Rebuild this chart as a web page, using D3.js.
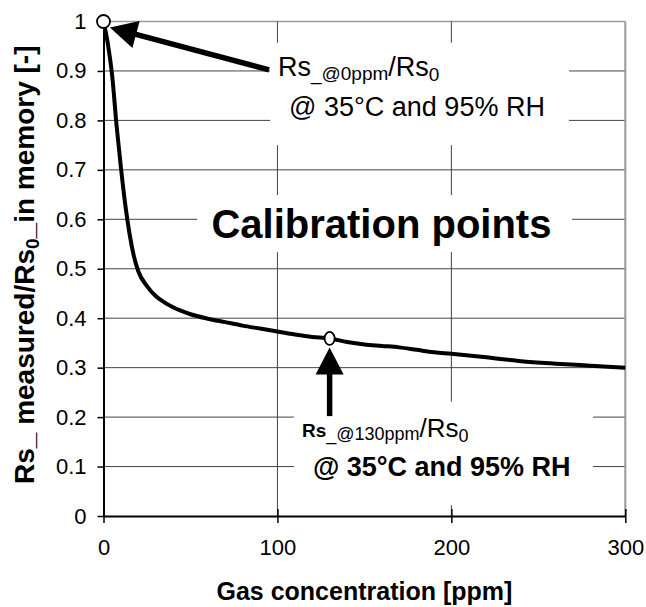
<!DOCTYPE html>
<html>
<head>
<meta charset="utf-8">
<script src="https://cdnjs.cloudflare.com/ajax/libs/d3/7.8.5/d3.min.js"></script>
<style>
    body { margin: 0; background: #fff; }
    text { font-family: 'Liberation Sans', Arial, sans-serif; fill: #000; }
    .tick text { font-size: 22px; }
    .title { font-size: 25px; font-weight: bold; }
</style>
</head>
<body>
<div id="vis"></div>
<script>
// Sensor response curve
var gasPpm = [0, 2.5, 5, 7.5, 10, 12.5, 15, 17.5, 20, 25, 30, 35, 40, 50, 60, 70, 80, 90, 100,
    110, 120, 130, 140, 150, 160, 170, 180, 190, 200, 220, 240, 260, 280, 300];
var rsRatio = [1.0, 0.955, 0.89, 0.79, 0.705, 0.63, 0.57, 0.525, 0.495, 0.465, 0.445, 0.432, 0.422,
    0.408, 0.399, 0.392, 0.385, 0.379, 0.373, 0.367, 0.362, 0.359, 0.352, 0.347, 0.344, 0.341,
    0.336, 0.331, 0.328, 0.321, 0.313, 0.308, 0.304, 0.300];

// Calibration points (open markers)
var calibPpm = [0, 130];
var calibRatio = [1.0, 0.359];

// Axis ticks
var xTicks = [0, 100, 200, 300];
var yTicks = [0, 0.1, 0.2, 0.3, 0.4, 0.5, 0.6, 0.7, 0.8, 0.9, 1];
var yTickLabels = ['0', '0.1', '0.2', '0.3', '0.4', '0.5', '0.6', '0.7', '0.8', '0.9', '1'];

var width = 646;
var height = 607;
var margin = { left: 103.5, right: 20.7, top: 21.5, bottom: 91 };
var drawWidth = width - margin.left - margin.right;
var drawHeight = height - margin.top - margin.bottom;

var svg = d3.select('#vis')
    .append('svg')
    .attr('width', width)
    .attr('height', height);

var xScale = d3.scaleLinear().domain([0, 300]).range([margin.left, margin.left + drawWidth]);
var yScale = d3.scaleLinear().domain([0, 1]).range([margin.top + drawHeight, margin.top]);

// Horizontal gridlines
svg.append('g')
    .selectAll('line')
    .data(yTicks.filter(function(d) { return d > 0; }))
    .enter().append('line')
    .attr('x1', xScale(0))
    .attr('x2', xScale(300))
    .attr('y1', function(d) { return yScale(d); })
    .attr('y2', function(d) { return yScale(d); })
    .attr('stroke', function(d) { return d === 1 ? '#999' : '#444'; })
    .attr('stroke-width', function(d) { return d === 1 ? 1.5 : 1; });

// Vertical gridlines, right one is the plot border
svg.append('g')
    .selectAll('line')
    .data(xTicks.filter(function(d) { return d > 0; }))
    .enter().append('line')
    .attr('x1', function(d) { return xScale(d); })
    .attr('x2', function(d) { return xScale(d); })
    .attr('y1', yScale(0))
    .attr('y2', yScale(1))
    .attr('stroke', function(d) { return d === 300 ? '#999' : '#444'; })
    .attr('stroke-width', function(d) { return d === 300 ? 2 : 1; });

// White text boxes covering the grid
var boxes = [
    { x0: 95.8, x1: 267.6, y0: 0.957, y1: 0.750 },
    { x0: 53.8, x1: 269.4, y0: 0.649, y1: 0.534 },
    { x0: 109.5, x1: 281.4, y0: 0.231, y1: 0.022 }
];
svg.append('g')
    .selectAll('rect')
    .data(boxes)
    .enter().append('rect')
    .attr('x', function(d) { return xScale(d.x0); })
    .attr('y', function(d) { return yScale(d.y0); })
    .attr('width', function(d) { return xScale(d.x1) - xScale(d.x0); })
    .attr('height', function(d) { return yScale(d.y1) - yScale(d.y0); })
    .attr('fill', '#fff');

// Axes
var xAxis = d3.axisBottom(xScale).tickValues(xTicks).tickSizeInner(7).tickSizeOuter(0).tickPadding(16);
var yAxis = d3.axisLeft(yScale).tickValues(yTicks).tickSizeInner(6).tickSizeOuter(0).tickPadding(11)
    .tickFormat(function(d, i) { return yTickLabels[i]; });

var gx = svg.append('g')
    .attr('transform', 'translate(0,' + yScale(0) + ')')
    .call(xAxis);
gx.select('.domain').attr('stroke', '#000').attr('stroke-width', 2);
gx.selectAll('.tick line').attr('y1', -7).attr('stroke-width', 1.5);

var gy = svg.append('g')
    .attr('transform', 'translate(' + xScale(0) + ',0)')
    .call(yAxis);
gy.select('.domain').attr('stroke', '#000').attr('stroke-width', 2);
gy.selectAll('.tick line').attr('stroke-width', 1.5);
svg.selectAll('.tick text').attr('font-family', null).attr('font-size', null);

// Axis titles
svg.append('text')
    .attr('class', 'title')
    .attr('x', (xScale(0) + xScale(300)) / 2)
    .attr('y', 600)
    .attr('text-anchor', 'middle')
    .text('Gas concentration [ppm]');

var yTitle = svg.append('text')
    .attr('class', 'title')
    .style('font-size', '28px')
    .attr('text-anchor', 'middle')
    .attr('transform', 'translate(34,' + (yScale(0.5) - 4) + ') rotate(-90)');
yTitle.append('tspan').text('Rs_ measured/Rs');
yTitle.append('tspan').attr('font-size', '19px').attr('dy', 5).text('0');
yTitle.append('tspan').attr('dy', -5).text('_in memory [-]');

// Response curve
var line = d3.line()
    .x(function(d, i) { return xScale(gasPpm[i]); })
    .y(function(d) { return yScale(d); })
    .curve(d3.curveMonotoneX);

svg.append('path')
    .datum(rsRatio)
    .attr('d', line)
    .attr('fill', 'none')
    .attr('stroke', '#000')
    .attr('stroke-width', 4)
    .attr('stroke-linejoin', 'round');

// Arrows pointing at the calibration points
var arrows = [
    { fromX: 95.2, fromY: 0.902, toX: 3.7, toY: 0.988 },
    { fromX: 130, fromY: 0.202, toX: 130, toY: 0.341 }
];
var headLen = 27;
var headHalf = 14;
arrows.forEach(function(a) {
    var x1 = xScale(a.fromX), y1 = yScale(a.fromY);
    var x2 = xScale(a.toX), y2 = yScale(a.toY);
    var len = Math.sqrt((x2 - x1) * (x2 - x1) + (y2 - y1) * (y2 - y1));
    var ux = (x2 - x1) / len, uy = (y2 - y1) / len;
    var bx = x2 - ux * headLen, by = y2 - uy * headLen;
    svg.append('line')
        .attr('x1', x1).attr('y1', y1)
        .attr('x2', bx + ux * 2).attr('y2', by + uy * 2)
        .attr('stroke', '#000')
        .attr('stroke-width', 5.5);
    svg.append('polygon')
        .attr('points', [
            [x2, y2],
            [bx - uy * headHalf, by + ux * headHalf],
            [bx + uy * headHalf, by - ux * headHalf]
        ].join(' '))
        .attr('fill', '#000');
});

// Calibration markers
svg.append('g')
    .selectAll('ellipse')
    .data(calibPpm)
    .enter().append('ellipse')
    .attr('cx', function(d) { return xScale(d); })
    .attr('cy', function(d, i) { return yScale(calibRatio[i]); })
    .attr('rx', function(d, i) { return i === 0 ? 6.5 : 5; })
    .attr('ry', 6.5)
    .attr('fill', '#fff')
    .attr('stroke', '#000')
    .attr('stroke-width', 1.8);

// Annotation texts
var t1 = svg.append('text')
    .attr('x', xScale(100.3))
    .attr('y', yScale(0.890))
    .style('font-size', '27px');
t1.append('tspan').text('Rs');
t1.append('tspan').attr('font-size', '19px').attr('dy', 4).text('_@0ppm');
t1.append('tspan').attr('dy', -4).text('/Rs');
t1.append('tspan').attr('font-size', '19px').attr('dy', 5).text('0');

svg.append('text')
    .attr('x', xScale(106.7))
    .attr('y', yScale(0.809))
    .style('font-size', '27px')
    .text('@ 35°C and 95% RH');

svg.append('text')
    .attr('x', xScale(159.8))
    .attr('y', yScale(0.562))
    .attr('text-anchor', 'middle')
    .style('font-size', '40px')
    .style('font-weight', 'bold')
    .text('Calibration points');

var t2 = svg.append('text')
    .attr('x', xScale(114.1))
    .attr('y', yScale(0.160))
    .style('font-size', '26px');
t2.append('tspan').attr('font-size', '19px').attr('font-weight', 'bold').text('Rs');
t2.append('tspan').attr('font-size', '18px').attr('dy', 3).text('_@130ppm');
t2.append('tspan').attr('dy', -3).text('/Rs');
t2.append('tspan').attr('font-size', '18px').attr('dy', 5).text('0');

svg.append('text')
    .attr('x', xScale(120.4))
    .attr('y', yScale(0.081))
    .style('font-size', '27px')
    .style('font-weight', 'bold')
    .text('@ 35°C and 95% RH');
</script>
</body>
</html>
